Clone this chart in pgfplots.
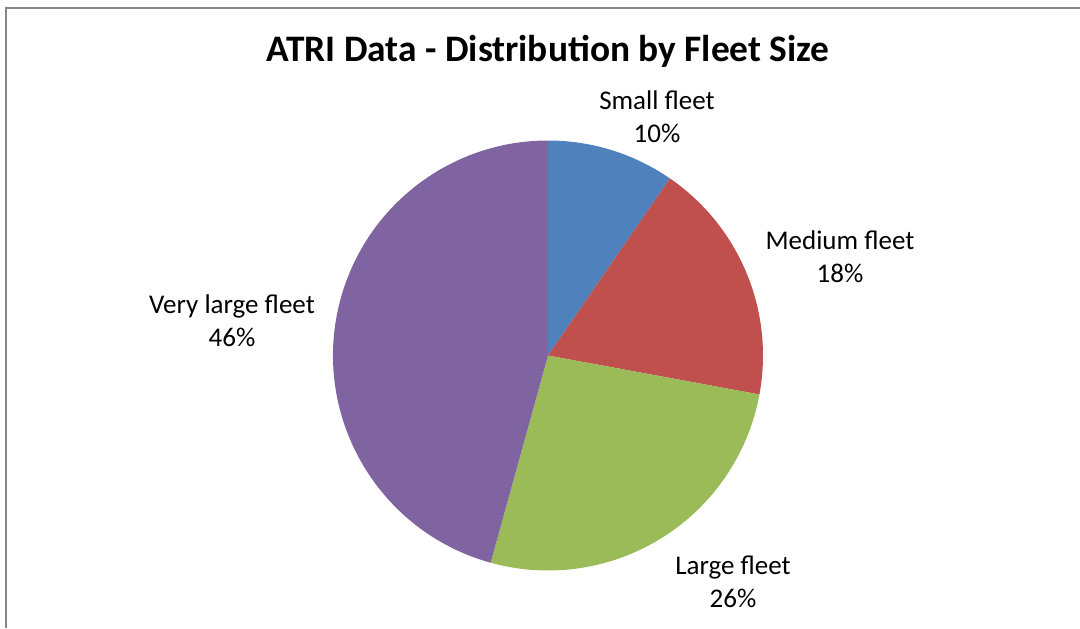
\documentclass[border=0pt]{standalone}
\usepackage{fontspec}
\setmainfont{Carlito}
\usepackage{pgfplots}
\usepackage{pgfplotstable}
\pgfplotsset{compat=1.18}
\definecolor{cA}{HTML}{4F81BD}
\definecolor{cB}{HTML}{C0504D}
\definecolor{cC}{HTML}{9BBB59}
\definecolor{cD}{HTML}{8064A2}
\definecolor{frame}{RGB}{134,134,134}
\pgfplotstableread{
name value
Small 9.6
Medium 18.3
Large 26.4
VeryLarge 45.7
}\piedata
\begin{document}
\begin{tikzpicture}[x=1pt,y=1pt]
\useasboundingbox (0,0) rectangle (540,314);
\fill[white] (0,0) rectangle (540,314);
\draw[line width=1pt, frame] (3,0) -- (3,310) -- (540,310);
\begin{axis}[at={(274pt,136.25pt)}, anchor=origin, scale only axis,
  width=215pt, height=215pt, xmin=-1, xmax=1, ymin=-1, ymax=1,
  hide axis, clip=false]
\pgfplotsextra{%
  \gdef\cum{0}%
  \foreach \i/\col in {0/cA,1/cB,2/cC,3/cD}{%
    \pgfplotstablegetelem{\i}{value}\of\piedata
    \let\v\pgfplotsretval
    \pgfmathsetmacro\sa{90-3.6*\cum}%
    \pgfmathsetmacro\ea{90-3.6*(\cum+\v)}%
    \fill[\col] (axis cs:0,0) -- ++(\sa:107.5pt) arc[start angle=\sa, end angle=\ea, radius=107.5pt] -- cycle;
    \pgfmathsetmacro\newcum{\cum+\v}%
    \xdef\cum{\newcum}%
  }%
}
\end{axis}
\node[anchor=base, font=\bfseries\fontsize{18.7}{22}\selectfont] at (274,283.15) {ATRI Data - Distribution by Fleet Size};
\tikzset{lab/.style={align=center, font=\fontsize{13.5}{16.3}\selectfont, inner sep=0pt}}
\node[lab] at (328.5,255.5) {Small fleet\\10\%};
\node[lab] at (420,185.5) {Medium fleet\\18\%};
\node[lab] at (366.5,23) {Large fleet\\26\%};
\node[lab] at (116,153.5) {Very large fleet\\46\%};
\end{tikzpicture}
\end{document}
